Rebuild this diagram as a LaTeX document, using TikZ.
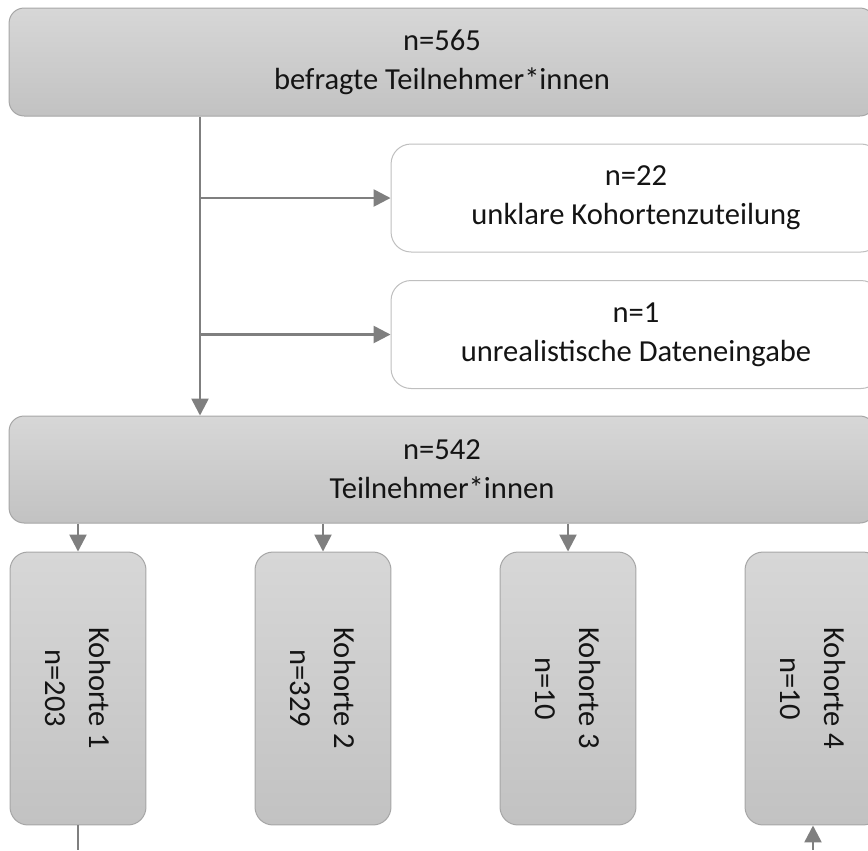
\documentclass[tikz,border=0pt]{standalone}
\usepackage{fontspec}
\setmainfont{Carlito}
\usepackage{tikz}
\usetikzlibrary{positioning,arrows.meta}
\definecolor{BoxTop}{HTML}{D7D7D7}
\definecolor{BoxBottom}{HTML}{C2C2C2}
\definecolor{BoxLine}{HTML}{A6A6A6}
\definecolor{WhiteLine}{HTML}{BFBFBF}
\definecolor{ArrowGray}{HTML}{7F7F7F}
\definecolor{TextDark}{HTML}{141414}
\tikzset{
  flussfont/.style={font=\fontsize{17.4}{22.2}\selectfont, text=TextDark},
  graubox/.style={draw=BoxLine, line width=0.02cm, top color=BoxTop,
    bottom color=BoxBottom, rounded corners=0.3cm, align=center,
    inner sep=0pt, flussfont},
  weissbox/.style={draw=WhiteLine, line width=0.02cm, fill=white,
    rounded corners=0.4cm, align=center, inner sep=0pt, flussfont,
    minimum width=9.8cm, minimum height=2.16cm},
  breitbox/.style={graubox, minimum width=17.32cm, minimum height=2.16cm},
  kohorte/.style={graubox, minimum width=2.72cm, minimum height=5.46cm,
    rounded corners=0.36cm},
  kohtext/.style={rotate=-90, align=center, inner sep=0pt,
    font=\fontsize{17.4}{24.5}\selectfont, text=TextDark},
  linie/.style={draw=ArrowGray, line width=0.05cm},
  pfeil/.style={linie, -{Triangle[length=0.34cm,width=0.34cm]}},
}
\begin{document}
\begin{tikzpicture}[x=0.02cm, y=-0.02cm]
  \useasboundingbox (0,0) rectangle (868,850);

  \node[breitbox] (befragt) at (442,62) {n=565\\befragte Teilnehmer*innen};
  \node[weissbox] (unklar) at (636,198) {n=22\\unklare Kohortenzuteilung};
  \node[weissbox] (unreal) at (636,334.5) {n=1\\unrealistische Dateneingabe};
  \node[breitbox, minimum height=2.14cm] (gesamt) at (442,469.5) {n=542\\Teilnehmer*innen};

  \node[kohorte] (k1) at (78,688.5) {};
  \node[kohorte] (k2) at (323,688.5) {};
  \node[kohorte] (k3) at (568,688.5) {};
  \node[kohorte] (k4) at (813,688.5) {};
  \node[kohtext] (k1text) at (k1) {Kohorte 1\\n=203};
  \node[kohtext] (k2text) at (k2) {Kohorte 2\\n=329};
  \node[kohtext] (k3text) at (k3) {Kohorte 3\\n=10};
  \node[kohtext] (k4text) at (k4) {Kohorte 4\\n=10};

  \coordinate (stamm) at (200,0);
  \coordinate (k1aus) at (78,850);
  \coordinate (k4ein) at (813,850);

  \draw[pfeil] (befragt.south -| stamm) -- (gesamt.north -| stamm);
  \draw[pfeil] (stamm |- unklar.west) -- (unklar.west);
  \draw[pfeil] (stamm |- unreal.west) -- (unreal.west);

  \draw[pfeil] (gesamt.south -| k1.north) -- (k1.north);
  \draw[pfeil] (gesamt.south -| k2.north) -- (k2.north);
  \draw[pfeil] (gesamt.south -| k3.north) -- (k3.north);

  \draw[linie] (k1.south) -- (k1aus);
  \draw[pfeil] (k4ein) -- (k4.south);
\end{tikzpicture}
\end{document}
